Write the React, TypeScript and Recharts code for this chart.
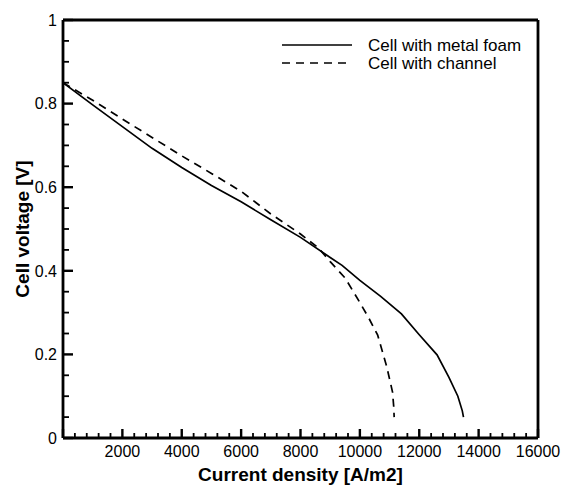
import React from 'react';
import { LineChart, Line, XAxis, YAxis, Legend, ReferenceLine } from 'recharts';

const foamCurrent = [0, 1000, 2000, 3000, 4000, 5000, 6000, 7000, 8000, 9000, 9400, 10000, 10700, 11400, 12000, 12600, 13000, 13300, 13450, 13490];
const foamVoltage = [0.85, 0.797, 0.745, 0.693, 0.647, 0.604, 0.565, 0.522, 0.48, 0.432, 0.413, 0.377, 0.339, 0.297, 0.247, 0.199, 0.145, 0.1, 0.065, 0.05];

const channelCurrent = [0, 500, 1000, 2000, 3000, 4000, 5000, 6000, 7000, 8000, 8600, 9000, 9500, 10000, 10300, 10600, 10900, 11100, 11140, 11155];
const channelVoltage = [0.85, 0.829, 0.808, 0.763, 0.719, 0.675, 0.633, 0.59, 0.536, 0.488, 0.455, 0.422, 0.383, 0.324, 0.287, 0.246, 0.172, 0.11, 0.075, 0.05];

const seriesNames = ['Cell with metal foam', 'Cell with channel'];
const xAxisTitle = 'Current density [A/m2]';
const yAxisTitle = 'Cell voltage [V]';
const xMajorStep = 2000;
const xMinorStep = 400;
const xMax = 16000;
const yMax = 1;
const yMinorStepPct = 5;
const yMajorStepPct = 20;

const foamData = foamCurrent.map((c, i) => ({ current: c, voltage: foamVoltage[i] }));
const channelData = channelCurrent.map((c, i) => ({ current: c, voltage: channelVoltage[i] }));

const xTicks = Array.from({ length: xMax / xMinorStep + 1 }, (_, i) => i * xMinorStep);
const yTicks = Array.from({ length: 100 / yMinorStepPct + 1 }, (_, i) => (i * yMinorStepPct) / 100);

const FONT = '"Liberation Sans", Arial, sans-serif';
const FRAME = { stroke: '#000', strokeWidth: 2.8 };

const XTick = (props: any) => {
  const { x, y, payload } = props;
  const v = payload.value;
  const major = v % xMajorStep === 0;
  const w = major ? 2.4 : 1.8;
  const h = major ? 9 : 5;
  return (
    <g>
      <rect x={x - w / 2} y={y - h} width={w} height={h} fill="#000" stroke="none" />
      {major && v !== 0 && (
        <text x={x} y={y + 18.5} textAnchor="middle" fontFamily={FONT} fontSize={16} fill="#000" stroke="none">
          {v}
        </text>
      )}
    </g>
  );
};

const YTick = (props: any) => {
  const { x, y, payload } = props;
  const v = payload.value;
  const major = Math.round(v * 100) % yMajorStepPct === 0;
  const w = major ? 10 : 6;
  const h = major ? 2.4 : 1.8;
  return (
    <g>
      <rect x={x} y={y - h / 2} width={w} height={h} fill="#000" stroke="none" />
      {major && (
        <text x={x - 6} y={y + 5.7} textAnchor="end" fontFamily={FONT} fontSize={16} fill="#000" stroke="none">
          {String(v)}
        </text>
      )}
    </g>
  );
};

const XTitle = (props: any) => {
  const vb = props.viewBox;
  return (
    <text x={vb.x + vb.width / 2} y={vb.y + 43} textAnchor="middle" fontFamily={FONT} fontSize={19} fontWeight="bold" fill="#000">
      {xAxisTitle}
    </text>
  );
};

const YTitle = (props: any) => {
  const vb = props.viewBox;
  const cx = vb.x + 22;
  const cy = vb.y + vb.height / 2;
  return (
    <text x={cx} y={cy} transform={`rotate(-90 ${cx} ${cy})`} textAnchor="middle" dominantBaseline="central" fontFamily={FONT} fontSize={19} fontWeight="bold" fill="#000">
      {yAxisTitle}
    </text>
  );
};

const LegendContent = () => (
  <svg width={270} height={44} style={{ display: 'block', overflow: 'visible' }}>
    <line x1={4} x2={74} y1={12} y2={12} stroke="#000" strokeWidth={1.6} />
    <text x={90} y={12} dominantBaseline="central" fontFamily={FONT} fontSize={17} fill="#000">
      {seriesNames[0]}
    </text>
    <line x1={4} x2={74} y1={30} y2={30} stroke="#000" strokeWidth={1.6} strokeDasharray="8 6" />
    <text x={90} y={30} dominantBaseline="central" fontFamily={FONT} fontSize={17} fill="#000">
      {seriesNames[1]}
    </text>
  </svg>
);

export default function App() {
  return (
    <div style={{ position: 'absolute', left: 0, top: 0, width: 561, height: 485, overflow: 'hidden', lineHeight: 0 }}>
      <LineChart width={561} height={485} margin={{ top: 20, right: 23, left: 0, bottom: 0 }}>
        <XAxis
          dataKey="current"
          type="number"
          domain={[0, xMax]}
          ticks={xTicks}
          interval={0}
          tick={<XTick />}
          tickLine={false}
          tickSize={0}
          tickMargin={0}
          axisLine={FRAME}
          height={47}
          allowDataOverflow
          label={<XTitle />}
        />
        <YAxis
          type="number"
          domain={[0, yMax]}
          ticks={yTicks}
          interval={0}
          tick={<YTick />}
          tickLine={false}
          tickSize={0}
          tickMargin={0}
          axisLine={FRAME}
          width={63}
          allowDataOverflow
          label={<YTitle />}
        />
        <ReferenceLine y={yMax} stroke="#000" strokeWidth={2.8} ifOverflow="visible" />
        <ReferenceLine x={xMax} stroke="#000" strokeWidth={2.8} ifOverflow="visible" />
        <Line data={foamData} dataKey="voltage" name={seriesNames[0]} type="linear" dot={false} stroke="#000" strokeWidth={1.7} isAnimationActive={false} />
        <Line data={channelData} dataKey="voltage" name={seriesNames[1]} type="linear" dot={false} stroke="#000" strokeWidth={1.7} strokeDasharray="8 6" isAnimationActive={false} />
        <Legend
          layout="horizontal"
          verticalAlign="middle"
          align="center"
          content={<LegendContent />}
          wrapperStyle={{ position: 'absolute', left: 278, top: 33, width: 270, height: 44, lineHeight: 'normal' }}
        />
      </LineChart>
    </div>
  );
}
